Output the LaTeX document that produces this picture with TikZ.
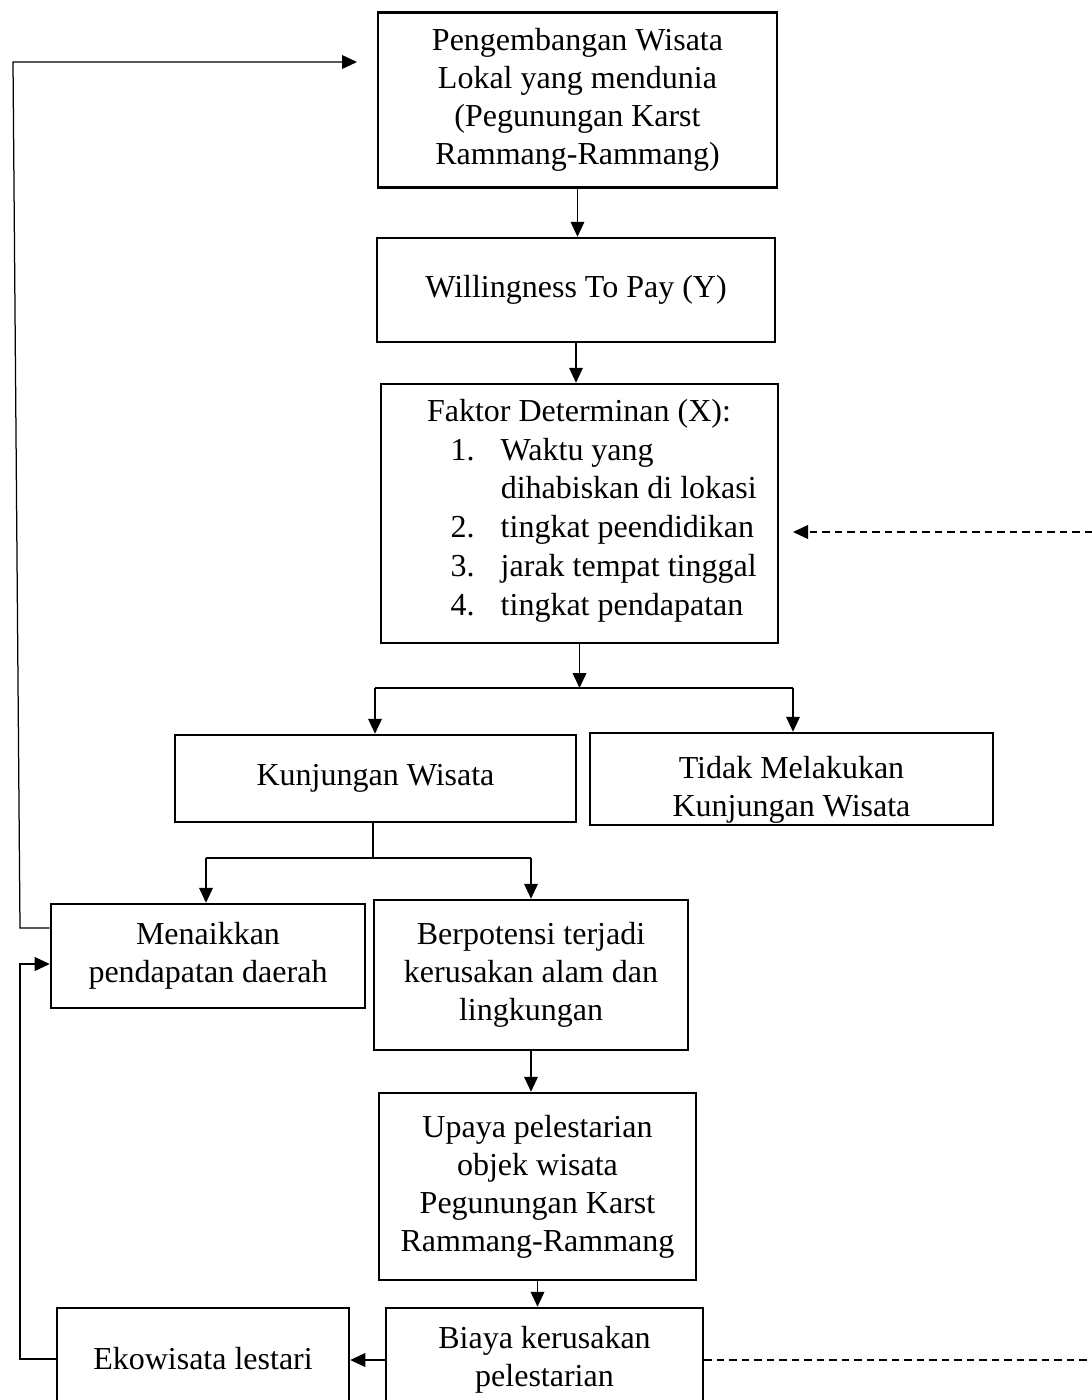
\documentclass[tikz,border=0pt]{standalone}
\usepackage{fontspec}
\setmainfont{Liberation Serif}
\usetikzlibrary{arrows.meta}

\begin{document}
\begin{tikzpicture}[x=0.4pt,y=-0.4pt,
  kotak/.style={draw,line width=1pt,align=center,inner sep=2pt,font=\fontsize{12.8}{15.2}\selectfont},
  teks/.style={inner sep=0pt,align=center,font=\fontsize{12.8}{15.2}\selectfont},
  garis/.style={line width=0.5pt},
  panah/.style={line width=0.5pt,-{Triangle[length=6pt,width=5.5pt]}},
  putus/.style={dash pattern=on 3pt off 2pt}]
\useasboundingbox (0,0) rectangle (1092,1400);
\clip (0,0) rectangle (1092,1400);
\node[kotak,minimum width=159.6pt,minimum height=70pt] (wisata) at (577.5,100) {Pengembangan Wisata\\Lokal yang mendunia\\(Pegunungan Karst\\Rammang-Rammang)};
\node[kotak,minimum width=159.2pt,minimum height=41.6pt] (wtp) at (576,290) {Willingness To Pay (Y)};
\node[kotak,minimum width=158.8pt,minimum height=103.6pt] (faktor) at (579.5,513.5) {};
\node[teks] (judul) at (579,414) {Faktor Determinan (X):};
\node[teks,anchor=west] (daftar) at (450,530) {\def\arraystretch{1.02}\begin{tabular}{@{}l@{\hspace{10.5pt}}l@{}}
1. & Waktu yang\\
   & dihabiskan di lokasi\\
2. & tingkat peendidikan\\
3. & jarak tempat tinggal\\
4. & tingkat pendapatan
\end{tabular}};
\node[kotak,minimum width=160.4pt,minimum height=34.8pt] (kunjungan) at (375.5,778.5) {Kunjungan Wisata};
\node[kotak,minimum width=161.2pt,minimum height=36.8pt] (tidak) at (791.5,779) {};
\node[teks] (tidakteks) at (791.5,790) {Tidak Melakukan\\Kunjungan Wisata};
\node[kotak,minimum width=125.6pt,minimum height=41.6pt] (naik) at (208,956) {Menaikkan\\pendapatan daerah};
\node[kotak,minimum width=125.6pt,minimum height=60pt] (rusak) at (531,975) {Berpotensi terjadi\\kerusakan alam dan\\lingkungan};
\node[kotak,minimum width=126.8pt,minimum height=74.8pt] (upaya) at (537.5,1186.5) {Upaya pelestarian\\objek wisata\\Pegunungan Karst\\Rammang-Rammang};
\node[kotak,minimum width=126.8pt,minimum height=41.6pt] (biaya) at (544.5,1360) {Biaya kerusakan\\pelestarian};
\node[kotak,minimum width=116.8pt,minimum height=40.8pt] (eko) at (203,1359) {Ekowisata lestari};

\coordinate (cabang1) at (582,688);
\coordinate (kiri1) at (375,688);
\coordinate (kanan1) at (793,688);
\coordinate (cabang2) at (373,858);
\coordinate (kiri2) at (206,858);
\coordinate (kanan2) at (531,858);
\coordinate (sudut1) at (20,964);
\coordinate (sudut2) at (20,928);
\coordinate (sudut3) at (13,62);
\coordinate (ujung) at (357,62);
\coordinate (luar1) at (1092,532);
\coordinate (masuk) at (793,532);
\coordinate (luar2) at (1092,1358);

\draw[panah] (wisata.south) -- (wisata.south |- wtp.north);
\draw[panah] (wtp.south) -- (wtp.south |- faktor.north);
\draw[panah] (faktor.south) -- (faktor.south |- cabang1);
\draw[garis] (kiri1) -- (kanan1);
\draw[panah] (kiri1) -- (kiri1 |- kunjungan.north);
\draw[panah] (kanan1) -- (kanan1 |- tidak.north);
\draw[garis] (kunjungan.south -| cabang2) -- (cabang2);
\draw[garis] (kiri2) -- (kanan2);
\draw[panah] (kiri2) -- (kiri2 |- naik.north);
\draw[panah] (kanan2) -- (kanan2 |- rusak.north);
\draw[panah] (rusak.south) -- (rusak.south |- upaya.north);
\draw[panah] (upaya.south) -- (upaya.south |- biaya.north);
\draw[panah] (biaya.west) -- (biaya.west -| eko.east);
\draw[panah] (eko.west) -| (sudut1) -- (sudut1 -| naik.west);
\draw[panah] (naik.west |- sudut2) -- (sudut2) -- (sudut3) -- (ujung);
\draw[panah,putus] (luar1) -- (masuk);
\draw[garis,putus] (biaya.east) -- (biaya.east -| luar2);
\end{tikzpicture}
\end{document}
